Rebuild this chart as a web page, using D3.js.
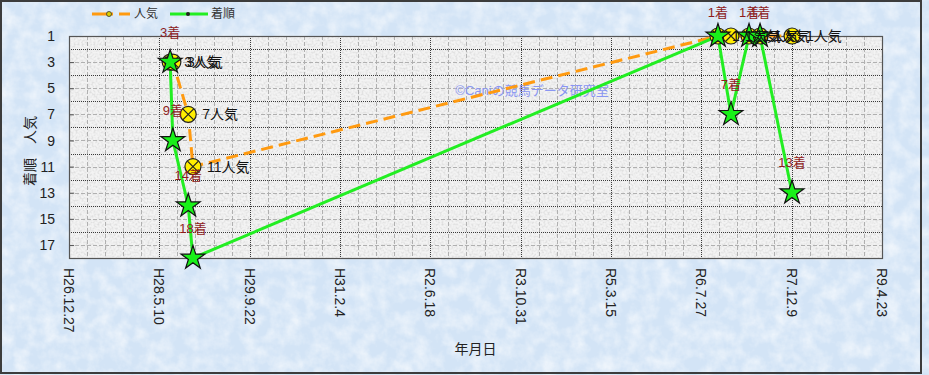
<!DOCTYPE html>
<html>
<head>
<meta charset="utf-8">
<style>
    body { margin: 0; }
    svg text { font-family: "Liberation Sans", Arial, "Noto Sans CJK JP", sans-serif; }
    .grid-major { stroke: #3a3a3a; stroke-width: 1; stroke-dasharray: 1,1; }
    .grid-minor { stroke: #b0b0b0; stroke-width: 1; stroke-dasharray: 4,2; }
</style>
<script src="https://d3js.org/d3.v7.min.js"></script>
</head>
<body>
<script>
// race dates and results
const raceDates = ["2016-07-09", "2016-07-24", "2016-10-17", "2016-11-12",
                   "2024-10-27", "2025-01-07", "2025-04-17", "2025-06-17", "2025-12-11"];
const popularity = [3, 3, 7, 11, 1, 1, 1, 1, 1];
const finish = [3, 9, 14, 18, 1, 7, 1, 1, 13];

const tickDates = ["2014-12-27", "2016-05-10", "2017-09-22", "2019-02-04", "2020-06-18",
                   "2021-10-31", "2023-03-15", "2024-07-27", "2025-12-09", "2027-04-23"];
const tickLabels = ["H26.12.27", "H28.5.10", "H29.9.22", "H31.2.4", "R2.6.18",
                    "R3.10.31", "R5.3.15", "R6.7.27", "R7.12.9", "R9.4.23"];
const rankTicks = [1, 3, 5, 7, 9, 11, 13, 15, 17];

const width = 929, height = 375;
const pLeft = 69, pRight = 882, pTop = 36, pBottom = 258;

const parse = d3.utcParse("%Y-%m-%d");
const races = raceDates.map((d, i) => ({date: parse(d), pop: popularity[i], fin: finish[i]}));
const ticks = tickDates.map(parse);

const x = d3.scaleUtc().domain([ticks[0], ticks[ticks.length - 1]]).range([pLeft, pRight]);
const y = d3.scaleLinear().domain([1, 18]).range([pTop, pBottom]);

const svg = d3.select("body").append("svg")
    .attr("width", width).attr("height", height);

const defs = svg.append("defs");
const bgNoise = defs.append("filter").attr("id", "bgNoise")
    .attr("x", 0).attr("y", 0).attr("width", "100%").attr("height", "100%");
bgNoise.append("feTurbulence").attr("type", "fractalNoise")
    .attr("baseFrequency", 0.07).attr("numOctaves", 4).attr("seed", 3);
bgNoise.append("feColorMatrix").attr("type", "matrix")
    .attr("values", "0 0 0 0 1  0 0 0 0 1  0 0 0 0 1  1.1 0 0 0 -0.38");

const plotNoise = defs.append("filter").attr("id", "plotNoise")
    .attr("x", 0).attr("y", 0).attr("width", "100%").attr("height", "100%");
plotNoise.append("feTurbulence").attr("type", "fractalNoise")
    .attr("baseFrequency", 0.5).attr("numOctaves", 2).attr("seed", 7);
plotNoise.append("feColorMatrix").attr("type", "matrix")
    .attr("values", "0 0 0 0 0.55  0 0 0 0 0.55  0 0 0 0 0.55  1.2 0 0 0 -0.5");

// background
svg.append("rect").attr("width", width).attr("height", height).attr("fill", "#d3e4f6");
svg.append("rect").attr("width", width).attr("height", height).attr("filter", "url(#bgNoise)");
svg.append("rect").attr("x", 1).attr("y", 1).attr("width", 920).attr("height", 372)
    .attr("fill", "none").attr("stroke", "#3c3c3c").attr("stroke-width", 2);

// plot area
svg.append("rect").attr("x", pLeft).attr("y", pTop)
    .attr("width", pRight - pLeft).attr("height", pBottom - pTop).attr("fill", "#f3f3f3");
svg.append("rect").attr("x", pLeft).attr("y", pTop)
    .attr("width", pRight - pLeft).attr("height", pBottom - pTop).attr("filter", "url(#plotNoise)");

// grid
const minorDays = d3.range(100, 4500, 100).filter(d => d % 500 != 0)
    .map(d => d3.utcDay.offset(ticks[0], d));
svg.append("g").selectAll("line").data(minorDays).join("line")
    .attr("class", "grid-minor")
    .attr("x1", d => Math.round(x(d)) + 0.5).attr("x2", d => Math.round(x(d)) + 0.5)
    .attr("y1", pTop).attr("y2", pBottom);
svg.append("g").selectAll("line").data([3, 5, 7, 9, 11, 13, 15, 17]).join("line")
    .attr("class", "grid-minor")
    .attr("x1", pLeft).attr("x2", pRight)
    .attr("y1", d => Math.round(y(d)) + 0.5).attr("y2", d => Math.round(y(d)) + 0.5);
svg.append("g").selectAll("line").data(ticks.slice(1, -1)).join("line")
    .attr("class", "grid-major")
    .attr("x1", d => Math.round(x(d)) + 0.5).attr("x2", d => Math.round(x(d)) + 0.5)
    .attr("y1", pTop).attr("y2", pBottom);
svg.append("g").selectAll("line").data([2, 4, 6, 8, 10, 12, 14, 16]).join("line")
    .attr("class", "grid-major")
    .attr("x1", pLeft).attr("x2", pRight)
    .attr("y1", d => Math.round(y(d)) + 0.5).attr("y2", d => Math.round(y(d)) + 0.5);

svg.append("rect").attr("x", pLeft + 0.5).attr("y", pTop + 0.5)
    .attr("width", pRight - pLeft).attr("height", pBottom - pTop)
    .attr("fill", "none").attr("stroke", "#555").attr("stroke-width", 1.2);

// y axis (ticks inside the plot)
const yAxis = svg.append("g").attr("transform", "translate(" + pLeft + ",0)")
    .call(d3.axisRight(y).tickValues(rankTicks).tickSize(5).tickFormat(""));
yAxis.select(".domain").remove();
yAxis.selectAll("line").attr("stroke", "#555");
svg.append("g").selectAll("text").data(rankTicks).join("text")
    .attr("x", 55).attr("y", d => y(d)).attr("dy", "0.36em")
    .attr("text-anchor", "end").attr("font-size", 14).attr("fill", "#222")
    .text(d => d);

// x tick labels, rotated
svg.append("g").selectAll("text").data(ticks).join("text")
    .attr("transform", d => "translate(" + x(d) + ",268) rotate(90)")
    .attr("dy", "0.36em").attr("font-size", 14).attr("fill", "#222")
    .text((d, i) => tickLabels[i]);

// axis titles
svg.append("text").attr("transform", "translate(30,151) rotate(-90)")
    .attr("text-anchor", "middle").attr("dy", "0.36em")
    .attr("font-size", 14).attr("fill", "#222").text("着順　人気");
svg.append("text").attr("x", (pLeft + pRight) / 2).attr("y", 354)
    .attr("text-anchor", "middle").attr("font-size", 14).attr("fill", "#222").text("年月日");

// watermark
svg.append("text").attr("x", 532).attr("y", 95).attr("text-anchor", "middle")
    .attr("font-size", 13).attr("fill", "#8a96f2").text("©Caniの競馬データ研究室");

// lines
const line = key => d3.line().x(d => x(d.date)).y(d => y(d[key]));
svg.append("path").datum(races).attr("d", line("pop"))
    .attr("fill", "none").attr("stroke", "#ff9a10").attr("stroke-width", 3)
    .attr("stroke-dasharray", "12,6");
svg.append("path").datum(races).attr("d", line("fin"))
    .attr("fill", "none").attr("stroke", "#22ee22").attr("stroke-width", 3);

// popularity markers: yellow circle with cross
const circ = svg.append("g").selectAll("g").data(races).join("g")
    .attr("transform", d => "translate(" + x(d.date) + "," + y(d.pop) + ")");
circ.append("circle").attr("r", 8).attr("fill", "#ffee00").attr("stroke", "#222").attr("stroke-width", 1.2);
circ.append("path").attr("d", "M-5.5,-5.5L5.5,5.5M5.5,-5.5L-5.5,5.5")
    .attr("stroke", "#222").attr("stroke-width", 1.2);

// finish markers: green stars
const star = d3.symbol().type(d3.symbolStar).size(175);
svg.append("g").selectAll("path").data(races).join("path")
    .attr("d", star)
    .attr("transform", d => "translate(" + x(d.date) + "," + y(d.fin) + ")")
    .attr("fill", "#19f019").attr("stroke", "#111").attr("stroke-width", 1.2);

// labels
svg.append("g").selectAll("text").data(races).join("text")
    .attr("x", d => x(d.date) + 14).attr("y", d => y(d.pop)).attr("dy", "0.36em")
    .attr("font-size", 14).attr("fill", "#111")
    .text(d => d.pop + "人気");
svg.append("g").selectAll("text").data(races).join("text")
    .attr("x", d => x(d.date)).attr("y", d => Math.max(12, y(d.fin) - 30)).attr("dy", "0.36em")
    .attr("text-anchor", "middle").attr("font-size", 13).attr("fill", "#8e1c1c")
    .text(d => d.fin + "着");

// legend
const lg = svg.append("g");
lg.append("line").attr("x1", 92).attr("x2", 113).attr("y1", 14).attr("y2", 14)
    .attr("stroke", "#ff9a10").attr("stroke-width", 3);
lg.append("line").attr("x1", 119).attr("x2", 130).attr("y1", 14).attr("y2", 14)
    .attr("stroke", "#ff9a10").attr("stroke-width", 3);
lg.append("circle").attr("cx", 109).attr("cy", 14).attr("r", 2.5)
    .attr("fill", "#ddd000").attr("stroke", "#333").attr("stroke-width", 0.8);
lg.append("text").attr("x", 134).attr("y", 14).attr("dy", "0.36em")
    .attr("font-size", 12).attr("fill", "#333").text("人気");
lg.append("line").attr("x1", 170).attr("x2", 208).attr("y1", 14).attr("y2", 14)
    .attr("stroke", "#22ee22").attr("stroke-width", 3);
lg.append("circle").attr("cx", 188).attr("cy", 14).attr("r", 2)
    .attr("fill", "#222");
lg.append("text").attr("x", 211).attr("y", 14).attr("dy", "0.36em")
    .attr("font-size", 12).attr("fill", "#333").text("着順");
</script>
</body>
</html>
